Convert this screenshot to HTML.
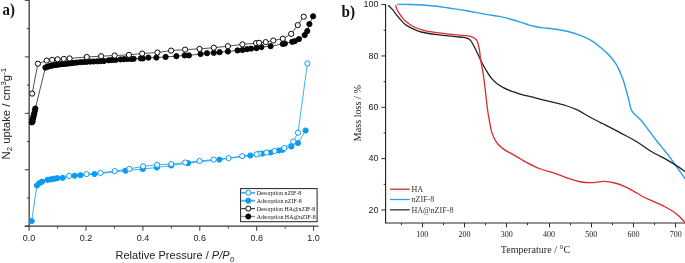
<!DOCTYPE html>
<html><head><meta charset="utf-8"><style>
html,body{margin:0;padding:0;background:#fff;width:685px;height:263px;overflow:hidden;position:relative}

</style></head><body>
<svg width="685" height="263" viewBox="0 0 685 263" style="position:absolute;left:0;top:0;will-change:transform">
<g stroke="#3a3a3a" fill="none">
<line x1="29.2" y1="0" x2="29.2" y2="226.2" stroke-width="1.5" stroke="#555"/>
<line x1="24.7" y1="226.2" x2="318.5" y2="226.2" stroke-width="1.3"/>
<line x1="24.8" y1="0.4" x2="29.2" y2="0.4" stroke-width="1"/>
<line x1="26.9" y1="28.63" x2="29.2" y2="28.63" stroke-width="1"/>
<line x1="24.8" y1="56.86" x2="29.2" y2="56.86" stroke-width="1"/>
<line x1="26.9" y1="85.09" x2="29.2" y2="85.09" stroke-width="1"/>
<line x1="24.8" y1="113.32" x2="29.2" y2="113.32" stroke-width="1"/>
<line x1="26.9" y1="141.55" x2="29.2" y2="141.55" stroke-width="1"/>
<line x1="24.8" y1="169.78" x2="29.2" y2="169.78" stroke-width="1"/>
<line x1="26.9" y1="198.01" x2="29.2" y2="198.01" stroke-width="1"/>
<line x1="24.8" y1="226.24" x2="29.2" y2="226.24" stroke-width="1"/>
<line x1="29.1" y1="226.2" x2="29.1" y2="230.8" stroke-width="1"/>
<line x1="57.55" y1="226.2" x2="57.55" y2="228.6" stroke-width="1"/>
<line x1="86" y1="226.2" x2="86" y2="230.8" stroke-width="1"/>
<line x1="114.45" y1="226.2" x2="114.45" y2="228.6" stroke-width="1"/>
<line x1="142.9" y1="226.2" x2="142.9" y2="230.8" stroke-width="1"/>
<line x1="171.35" y1="226.2" x2="171.35" y2="228.6" stroke-width="1"/>
<line x1="199.8" y1="226.2" x2="199.8" y2="230.8" stroke-width="1"/>
<line x1="228.25" y1="226.2" x2="228.25" y2="228.6" stroke-width="1"/>
<line x1="256.7" y1="226.2" x2="256.7" y2="230.8" stroke-width="1"/>
<line x1="285.15" y1="226.2" x2="285.15" y2="228.6" stroke-width="1"/>
<line x1="313.6" y1="226.2" x2="313.6" y2="230.8" stroke-width="1"/>
</g>
<polyline points="31.7,221 36.9,185.5 39.4,183.1 42,181.7 47.5,179.8 50.1,179.5 52.4,179 54.6,178.7 57.2,178.2 62.7,177.8 74.7,175.7 80.5,175.2 94.5,174.1 125.5,170.7 142.8,169 156.8,167.5 171.2,165.5 188,163.2 219.4,159.6 250.3,155.5 262.4,153.6 270.7,152.5 278.7,150.5 282.5,149.8 291.4,146.5 298,143 305.6,130.5" fill="none" stroke="#0b9bf0" stroke-width="0.8"/><g fill="#0b9bf0" stroke="#0b9bf0" stroke-width="1"><circle cx="31.7" cy="221" r="2.6"/><circle cx="36.9" cy="185.5" r="2.6"/><circle cx="39.4" cy="183.1" r="2.6"/><circle cx="42" cy="181.7" r="2.6"/><circle cx="47.5" cy="179.8" r="2.6"/><circle cx="50.1" cy="179.5" r="2.6"/><circle cx="52.4" cy="179" r="2.6"/><circle cx="54.6" cy="178.7" r="2.6"/><circle cx="57.2" cy="178.2" r="2.6"/><circle cx="62.7" cy="177.8" r="2.6"/><circle cx="74.7" cy="175.7" r="2.6"/><circle cx="80.5" cy="175.2" r="2.6"/><circle cx="94.5" cy="174.1" r="2.6"/><circle cx="125.5" cy="170.7" r="2.6"/><circle cx="142.8" cy="169" r="2.6"/><circle cx="156.8" cy="167.5" r="2.6"/><circle cx="171.2" cy="165.5" r="2.6"/><circle cx="188" cy="163.2" r="2.6"/><circle cx="219.4" cy="159.6" r="2.6"/><circle cx="250.3" cy="155.5" r="2.6"/><circle cx="262.4" cy="153.6" r="2.6"/><circle cx="270.7" cy="152.5" r="2.6"/><circle cx="278.7" cy="150.5" r="2.6"/><circle cx="282.5" cy="149.8" r="2.6"/><circle cx="291.4" cy="146.5" r="2.6"/><circle cx="298" cy="143" r="2.6"/><circle cx="305.6" cy="130.5" r="2.6"/></g>
<polyline points="307.4,63.5 298,132.7 293.2,141.5 284.3,148 274.6,151 266.5,152.5 259,153.6 256.7,154.3 242.2,156.1 228.6,158.1 213.7,159.6 199.6,161 185.2,162.5 171.2,164 157.1,164.8 143.1,166.3 129.4,168.9 114.7,171.1 100.5,172.9 86.5,174.1 69.1,176" fill="none" stroke="#0b9bf0" stroke-width="0.8"/><g fill="#fff" stroke="#0b9bf0" stroke-width="1"><circle cx="307.4" cy="63.5" r="2.6"/><circle cx="298" cy="132.7" r="2.6"/><circle cx="293.2" cy="141.5" r="2.6"/><circle cx="284.3" cy="148" r="2.6"/><circle cx="274.6" cy="151" r="2.6"/><circle cx="266.5" cy="152.5" r="2.6"/><circle cx="259" cy="153.6" r="2.6"/><circle cx="256.7" cy="154.3" r="2.6"/><circle cx="242.2" cy="156.1" r="2.6"/><circle cx="228.6" cy="158.1" r="2.6"/><circle cx="213.7" cy="159.6" r="2.6"/><circle cx="199.6" cy="161" r="2.6"/><circle cx="185.2" cy="162.5" r="2.6"/><circle cx="171.2" cy="164" r="2.6"/><circle cx="157.1" cy="164.8" r="2.6"/><circle cx="143.1" cy="166.3" r="2.6"/><circle cx="129.4" cy="168.9" r="2.6"/><circle cx="114.7" cy="171.1" r="2.6"/><circle cx="100.5" cy="172.9" r="2.6"/><circle cx="86.5" cy="174.1" r="2.6"/><circle cx="69.1" cy="176" r="2.6"/></g>
<polyline points="31.9,122.4 32.6,121.6 32.3,120 33,118.2 33.3,117.5 33.7,115.6 34.3,113.2 34.8,110.8 35.3,108.5 45.4,67.6 47,66.9 49,66.3 51,65.8 53,65.4 55,65.1 57,64.8 59,64.5 61,64.2 63,64 65,63.8 67,63.6 69,63.4 71,63.2 73.5,62.9 76.8,62.6 80.3,62.2 83.8,62 86.8,61.8 90.3,61.6 93.8,61.5 97.3,61.3 100.4,61.2 103.9,61 108.7,60.3 111.8,60.1 115.3,60 120.5,59.4 124,59.2 127.5,59 131,58.9 133.7,58.8 140.8,58.4 142.8,58.4 148.4,57.6 156.4,57.6 165.6,56.9 176.4,56.2 184.6,55.4 188.9,55.4 200.6,54 207,53.2 213.8,52.8 219.6,52.2 227.9,51.5 237.5,50.4 242.4,50 247,49.2 251.1,48.6 256.4,48.2 261.4,47.1 270.6,46.2 282.8,43.9 284.9,43.5 292.2,41.8 294.7,41.2 298.9,39.1 304.7,35.1 307.3,31 309.4,24.1 313.1,16.3" fill="none" stroke="#050505" stroke-width="0.7"/><g fill="#050505" stroke="#050505" stroke-width="1"><circle cx="31.9" cy="122.4" r="2.6"/><circle cx="32.6" cy="121.6" r="2.6"/><circle cx="32.3" cy="120" r="2.6"/><circle cx="33" cy="118.2" r="2.6"/><circle cx="33.3" cy="117.5" r="2.6"/><circle cx="33.7" cy="115.6" r="2.6"/><circle cx="34.3" cy="113.2" r="2.6"/><circle cx="34.8" cy="110.8" r="2.6"/><circle cx="35.3" cy="108.5" r="2.6"/><circle cx="45.4" cy="67.6" r="2.6"/><circle cx="47" cy="66.9" r="2.6"/><circle cx="49" cy="66.3" r="2.6"/><circle cx="51" cy="65.8" r="2.6"/><circle cx="53" cy="65.4" r="2.6"/><circle cx="55" cy="65.1" r="2.6"/><circle cx="57" cy="64.8" r="2.6"/><circle cx="59" cy="64.5" r="2.6"/><circle cx="61" cy="64.2" r="2.6"/><circle cx="63" cy="64" r="2.6"/><circle cx="65" cy="63.8" r="2.6"/><circle cx="67" cy="63.6" r="2.6"/><circle cx="69" cy="63.4" r="2.6"/><circle cx="71" cy="63.2" r="2.6"/><circle cx="73.5" cy="62.9" r="2.6"/><circle cx="76.8" cy="62.6" r="2.6"/><circle cx="80.3" cy="62.2" r="2.6"/><circle cx="83.8" cy="62" r="2.6"/><circle cx="86.8" cy="61.8" r="2.6"/><circle cx="90.3" cy="61.6" r="2.6"/><circle cx="93.8" cy="61.5" r="2.6"/><circle cx="97.3" cy="61.3" r="2.6"/><circle cx="100.4" cy="61.2" r="2.6"/><circle cx="103.9" cy="61" r="2.6"/><circle cx="108.7" cy="60.3" r="2.6"/><circle cx="111.8" cy="60.1" r="2.6"/><circle cx="115.3" cy="60" r="2.6"/><circle cx="120.5" cy="59.4" r="2.6"/><circle cx="124" cy="59.2" r="2.6"/><circle cx="127.5" cy="59" r="2.6"/><circle cx="131" cy="58.9" r="2.6"/><circle cx="133.7" cy="58.8" r="2.6"/><circle cx="140.8" cy="58.4" r="2.6"/><circle cx="142.8" cy="58.4" r="2.6"/><circle cx="148.4" cy="57.6" r="2.6"/><circle cx="156.4" cy="57.6" r="2.6"/><circle cx="165.6" cy="56.9" r="2.6"/><circle cx="176.4" cy="56.2" r="2.6"/><circle cx="184.6" cy="55.4" r="2.6"/><circle cx="188.9" cy="55.4" r="2.6"/><circle cx="200.6" cy="54" r="2.6"/><circle cx="207" cy="53.2" r="2.6"/><circle cx="213.8" cy="52.8" r="2.6"/><circle cx="219.6" cy="52.2" r="2.6"/><circle cx="227.9" cy="51.5" r="2.6"/><circle cx="237.5" cy="50.4" r="2.6"/><circle cx="242.4" cy="50" r="2.6"/><circle cx="247" cy="49.2" r="2.6"/><circle cx="251.1" cy="48.6" r="2.6"/><circle cx="256.4" cy="48.2" r="2.6"/><circle cx="261.4" cy="47.1" r="2.6"/><circle cx="270.6" cy="46.2" r="2.6"/><circle cx="282.8" cy="43.9" r="2.6"/><circle cx="284.9" cy="43.5" r="2.6"/><circle cx="292.2" cy="41.8" r="2.6"/><circle cx="294.7" cy="41.2" r="2.6"/><circle cx="298.9" cy="39.1" r="2.6"/><circle cx="304.7" cy="35.1" r="2.6"/><circle cx="307.3" cy="31" r="2.6"/><circle cx="309.4" cy="24.1" r="2.6"/><circle cx="313.1" cy="16.3" r="2.6"/></g>
<polyline points="32.1,93.6 37.9,63.7 46.7,60.6 52.2,59.9 57.6,59.3 63.8,58.9 69.6,58.4 86.8,57 101.1,56.2 114.6,55.5 128.9,54.9 142.2,53.5 157.4,52.5 171.1,50.6 185.1,49.6 199.5,48.9 213.8,47.7 227.9,46.2 242.4,44.4 256.1,43.1 259.1,42.8 265.7,42.1 273.3,40.5 282.8,38.7 291.2,33.9 297.8,25.1 303.7,16.7" fill="none" stroke="#050505" stroke-width="0.7"/><g fill="#fff" stroke="#050505" stroke-width="1"><circle cx="32.1" cy="93.6" r="2.6"/><circle cx="37.9" cy="63.7" r="2.6"/><circle cx="46.7" cy="60.6" r="2.6"/><circle cx="52.2" cy="59.9" r="2.6"/><circle cx="57.6" cy="59.3" r="2.6"/><circle cx="63.8" cy="58.9" r="2.6"/><circle cx="69.6" cy="58.4" r="2.6"/><circle cx="86.8" cy="57" r="2.6"/><circle cx="101.1" cy="56.2" r="2.6"/><circle cx="114.6" cy="55.5" r="2.6"/><circle cx="128.9" cy="54.9" r="2.6"/><circle cx="142.2" cy="53.5" r="2.6"/><circle cx="157.4" cy="52.5" r="2.6"/><circle cx="171.1" cy="50.6" r="2.6"/><circle cx="185.1" cy="49.6" r="2.6"/><circle cx="199.5" cy="48.9" r="2.6"/><circle cx="213.8" cy="47.7" r="2.6"/><circle cx="227.9" cy="46.2" r="2.6"/><circle cx="242.4" cy="44.4" r="2.6"/><circle cx="256.1" cy="43.1" r="2.6"/><circle cx="259.1" cy="42.8" r="2.6"/><circle cx="265.7" cy="42.1" r="2.6"/><circle cx="273.3" cy="40.5" r="2.6"/><circle cx="282.8" cy="38.7" r="2.6"/><circle cx="291.2" cy="33.9" r="2.6"/><circle cx="297.8" cy="25.1" r="2.6"/><circle cx="303.7" cy="16.7" r="2.6"/></g>
<g font-family="Liberation Sans" font-size="9" fill="#222" text-anchor="middle">
<text transform="translate(29.1,241) scale(1,1.11)">0.0</text>
<text transform="translate(86,241) scale(1,1.11)">0.2</text>
<text transform="translate(142.9,241) scale(1,1.11)">0.4</text>
<text transform="translate(199.8,241) scale(1,1.11)">0.6</text>
<text transform="translate(256.7,241) scale(1,1.11)">0.8</text>
<text transform="translate(313.6,241) scale(1,1.11)">1.0</text>
</g>
<text transform="translate(115.5,259.2) scale(1,1.06)" font-family="Liberation Sans" font-size="11.05" fill="#222">Relative Pressure / <tspan font-style="italic">P/P</tspan><tspan font-style="italic" font-size="7.6" dx="0.3" dy="3">0</tspan></text>
<text transform="translate(9.6,159.5) rotate(-90) scale(1,0.93)" font-family="Liberation Sans" font-size="11.3" fill="#222">N<tspan font-size="7.8" dy="2.2">2</tspan><tspan dy="-2.2"> uptake / cm</tspan><tspan font-size="7.8" dy="-3.8">3</tspan><tspan dy="3.8">g</tspan><tspan font-size="7.8" dy="-3.8">-1</tspan></text>
<text transform="translate(2.5,14.9) scale(0.87,1)" font-family="Liberation Serif" font-weight="bold" font-size="17" fill="#111">a)</text>
<rect x="240.6" y="188.6" width="76.5" height="33.1" fill="#fff" stroke="#222" stroke-width="1"/>
<line x1="241.2" y1="192.8" x2="255" y2="192.8" stroke="#45b0f0" stroke-width="1.8"/>
<circle cx="248.3" cy="192.8" r="2.55" fill="#fff" stroke="#0b9bf0" stroke-width="1"/>
<text transform="translate(256.7,195) scale(0.9,1)" font-family="Liberation Serif" font-size="6.6" fill="#111">Desorption nZIF-8</text>
<line x1="241.2" y1="200.7" x2="255" y2="200.7" stroke="#45b0f0" stroke-width="1.8"/>
<circle cx="248.3" cy="200.7" r="2.55" fill="#0b9bf0" stroke="#0b9bf0" stroke-width="1"/>
<text transform="translate(256.7,202.9) scale(0.9,1)" font-family="Liberation Serif" font-size="6.6" fill="#111">Adsorption nZIF-8</text>
<line x1="241.2" y1="208.6" x2="255" y2="208.6" stroke="#444" stroke-width="1.3"/>
<circle cx="248.3" cy="208.6" r="2.55" fill="#fff" stroke="#050505" stroke-width="1"/>
<text transform="translate(256.7,210.8) scale(0.9,1)" font-family="Liberation Serif" font-size="6.6" fill="#111">Desorption HA@nZIF-8</text>
<line x1="241.2" y1="216.5" x2="255" y2="216.5" stroke="#8a8a8a" stroke-width="1.3"/>
<circle cx="248.3" cy="216.5" r="2.55" fill="#050505" stroke="#050505" stroke-width="1"/>
<text transform="translate(256.7,218.7) scale(0.9,1)" font-family="Liberation Serif" font-size="6.6" fill="#111">Adsorption HA@nZIF-8</text>
<g stroke="#2b2b2b" fill="none" stroke-width="1.2">
<line x1="385.6" y1="4" x2="385.6" y2="223" stroke-width="1.1" stroke="#1e1e1e"/>
<line x1="385.0" y1="223" x2="685" y2="223"/>
<line x1="381.4" y1="210" x2="385.6" y2="210" stroke-width="1"/>
<line x1="383.6" y1="184.32" x2="385.6" y2="184.32" stroke-width="1"/>
<line x1="381.4" y1="158.65" x2="385.6" y2="158.65" stroke-width="1"/>
<line x1="383.6" y1="132.97" x2="385.6" y2="132.97" stroke-width="1"/>
<line x1="381.4" y1="107.3" x2="385.6" y2="107.3" stroke-width="1"/>
<line x1="383.6" y1="81.62" x2="385.6" y2="81.62" stroke-width="1"/>
<line x1="381.4" y1="55.95" x2="385.6" y2="55.95" stroke-width="1"/>
<line x1="383.6" y1="30.27" x2="385.6" y2="30.27" stroke-width="1"/>
<line x1="381.4" y1="4.6" x2="385.6" y2="4.6" stroke-width="1"/>
<line x1="401.5" y1="223" x2="401.5" y2="225.1" stroke-width="1"/>
<line x1="422.5" y1="223" x2="422.5" y2="227.4" stroke-width="1"/>
<line x1="443.5" y1="223" x2="443.5" y2="225.1" stroke-width="1"/>
<line x1="464.5" y1="223" x2="464.5" y2="227.4" stroke-width="1"/>
<line x1="485.5" y1="223" x2="485.5" y2="225.1" stroke-width="1"/>
<line x1="506.5" y1="223" x2="506.5" y2="227.4" stroke-width="1"/>
<line x1="527.5" y1="223" x2="527.5" y2="225.1" stroke-width="1"/>
<line x1="549.5" y1="223" x2="549.5" y2="227.4" stroke-width="1"/>
<line x1="570.5" y1="223" x2="570.5" y2="225.1" stroke-width="1"/>
<line x1="591.5" y1="223" x2="591.5" y2="227.4" stroke-width="1"/>
<line x1="612.5" y1="223" x2="612.5" y2="225.1" stroke-width="1"/>
<line x1="633.5" y1="223" x2="633.5" y2="227.4" stroke-width="1"/>
<line x1="654.5" y1="223" x2="654.5" y2="225.1" stroke-width="1"/>
<line x1="675.5" y1="223" x2="675.5" y2="227.4" stroke-width="1"/>
</g>
<path d="M397,4.4 C399.17,4.42 405.22,4.37 410,4.5 C414.78,4.63 421.2,4.9 425.7,5.2 C430.2,5.5 433.2,5.83 437,6.3 C440.8,6.77 443.83,7.3 448.5,8 C453.17,8.7 458.98,9.48 465,10.5 C471.02,11.52 478.9,13.12 484.6,14.1 C490.3,15.08 494.82,15.53 499.2,16.4 C503.58,17.27 507,18.23 510.9,19.3 C514.8,20.37 519.67,21.88 522.6,22.8 C525.53,23.72 526.6,24.22 528.5,24.8 C530.4,25.38 532.25,25.88 534,26.3 C535.75,26.72 537.33,27.03 539,27.3 C540.67,27.57 540.9,27.53 544,27.9 C547.1,28.27 553.27,28.82 557.6,29.5 C561.93,30.18 565.8,30.85 570,32 C574.2,33.15 578.77,34.68 582.8,36.4 C586.83,38.12 590.4,39.72 594.2,42.3 C598,44.88 602.97,49.58 605.6,51.9 C608.23,54.22 608.1,53.92 610,56.2 C611.9,58.48 614.95,62.03 617,65.6 C619.05,69.17 620.93,74.12 622.3,77.6 C623.67,81.08 624.38,83.77 625.2,86.5 C626.02,89.23 626.65,92 627.2,94 C627.75,96 628.1,96.95 628.5,98.5 C628.9,100.05 629.23,101.67 629.6,103.3 C629.97,104.93 630.23,106.92 630.7,108.3 C631.17,109.68 631.73,110.6 632.4,111.6 C633.07,112.6 633.93,113.5 634.7,114.3 C635.47,115.1 635.78,115.25 637,116.4 C638.22,117.55 640.32,119.25 642,121.2 C643.68,123.15 645.4,125.82 647.1,128.1 C648.8,130.38 650.48,132.62 652.2,134.9 C653.92,137.18 655.4,139.28 657.4,141.8 C659.4,144.32 662.23,147.58 664.2,150 C666.17,152.42 667.1,153.47 669.2,156.3 C671.3,159.13 674.27,163.45 676.8,167 C679.33,170.55 682.87,175.47 684.4,177.6 C685.93,179.73 685.73,179.43 686,179.8" fill="none" stroke="#2aa0e6" stroke-width="1.4"/>
<path d="M388.3,5.3 C389.05,6.07 391.43,8.32 392.8,9.9 C394.17,11.48 395.1,13.05 396.5,14.8 C397.9,16.55 399.62,18.68 401.2,20.4 C402.78,22.12 404.2,23.78 406,25.1 C407.8,26.42 409.48,27.15 412,28.3 C414.52,29.45 416.92,30.93 421.1,32 C425.28,33.07 431.4,33.93 437.1,34.7 C442.8,35.47 450.98,36.15 455.3,36.6 C459.62,37.05 460.97,37.12 463,37.4 C465.03,37.68 466.25,37.82 467.5,38.3 C468.75,38.78 469.48,39.1 470.5,40.3 C471.52,41.5 472.4,43.27 473.6,45.5 C474.8,47.73 476.38,50.95 477.7,53.7 C479.02,56.45 480.07,59.2 481.5,62 C482.93,64.8 484.65,67.8 486.3,70.5 C487.95,73.2 489.7,76.07 491.4,78.2 C493.1,80.33 494.5,81.73 496.5,83.3 C498.5,84.87 501.15,86.38 503.4,87.6 C505.65,88.82 507.9,89.75 510,90.6 C512.1,91.45 514.33,92.12 516,92.7 C517.67,93.28 516.8,93.23 520,94.1 C523.2,94.97 530.13,96.63 535.2,97.9 C540.27,99.17 545.33,100.43 550.4,101.7 C555.47,102.97 561.03,104.1 565.6,105.5 C570.17,106.9 574,108.32 577.8,110.1 C581.6,111.88 584.7,114.17 588.4,116.2 C592.1,118.23 597.2,120.85 600,122.3 C602.8,123.75 601.78,123.13 605.2,124.9 C608.62,126.67 615.17,130.05 620.5,132.9 C625.83,135.75 632.13,138.95 637.2,142 C642.27,145.05 646.08,148.3 650.9,151.2 C655.72,154.1 662.03,157.12 666.1,159.4 C670.17,161.68 672.15,162.87 675.3,164.9 C678.45,166.93 683.38,170.48 685,171.6" fill="none" stroke="#222" stroke-width="1.3"/>
<path d="M395.5,5.3 C395.68,5.82 396.1,7.25 396.6,8.4 C397.1,9.55 397.47,10.55 398.5,12.2 C399.53,13.85 401.38,16.62 402.8,18.3 C404.22,19.98 405.47,21.05 407,22.3 C408.53,23.55 410.17,24.77 412,25.8 C413.83,26.83 415.72,27.67 418,28.5 C420.28,29.33 422.53,30.12 425.7,30.8 C428.87,31.48 433.2,32.05 437,32.6 C440.8,33.15 444.67,33.68 448.5,34.1 C452.33,34.52 457.02,34.83 460,35.1 C462.98,35.37 464.65,35.5 466.4,35.7 C468.15,35.9 469.13,35.87 470.5,36.3 C471.87,36.73 473.48,37.47 474.6,38.3 C475.72,39.13 476.52,39.93 477.2,41.3 C477.88,42.67 478.3,44.88 478.7,46.5 C479.1,48.12 479.28,48.87 479.6,51 C479.92,53.13 479.93,55.07 480.6,59.3 C481.27,63.53 482.63,69.6 483.6,76.4 C484.57,83.2 485.73,94.5 486.4,100.1 C487.07,105.7 487.08,106.45 487.6,110 C488.12,113.55 488.87,117.92 489.5,121.4 C490.13,124.88 490.6,128.05 491.4,130.9 C492.2,133.75 493.18,136.28 494.3,138.5 C495.42,140.72 496.37,142.3 498.1,144.2 C499.83,146.1 502.33,148.25 504.7,149.9 C507.07,151.55 509.77,152.67 512.3,154.1 C514.83,155.53 517.68,157.2 519.9,158.5 C522.12,159.8 522.38,160.23 525.6,161.9 C528.82,163.57 534.3,166.6 539.2,168.5 C544.1,170.4 550.15,171.67 555,173.3 C559.85,174.93 563.87,176.85 568.3,178.3 C572.73,179.75 577.82,181.27 581.6,182 C585.38,182.73 587.22,182.8 591,182.7 C594.78,182.6 600.32,181.35 604.3,181.4 C608.28,181.45 611.58,182.18 614.9,183 C618.22,183.82 621.1,184.95 624.2,186.3 C627.3,187.65 630.52,189.45 633.5,191.1 C636.48,192.75 639.25,194.68 642.1,196.2 C644.95,197.72 647.75,198.92 650.6,200.2 C653.45,201.48 656.35,202.57 659.2,203.9 C662.05,205.23 665.13,206.77 667.7,208.2 C670.27,209.63 672.6,211.07 674.6,212.5 C676.6,213.93 678.13,215.3 679.7,216.8 C681.27,218.3 683.12,220.53 684,221.5 C684.88,222.47 684.83,222.42 685,222.6" fill="none" stroke="#dc2a2e" stroke-width="1.3"/>
<g font-family="Liberation Sans" font-size="9" fill="#222" text-anchor="end">
<text transform="translate(378.4,7.4) scale(1,1.1)">100</text>
<text transform="translate(378.4,58.75) scale(1,1.1)">80</text>
<text transform="translate(378.4,110.1) scale(1,1.1)">60</text>
<text transform="translate(378.4,161.45) scale(1,1.1)">40</text>
<text transform="translate(378.4,212.8) scale(1,1.1)">20</text>
</g>
<g font-family="Liberation Serif" font-size="8" fill="#222" text-anchor="middle">
<text x="422.18" y="236.6">100</text>
<text x="464.46" y="236.6">200</text>
<text x="506.74" y="236.6">300</text>
<text x="549.02" y="236.6">400</text>
<text x="591.3" y="236.6">500</text>
<text x="633.58" y="236.6">600</text>
<text x="675.86" y="236.6">700</text>
</g>
<text x="500.7" y="252.7" font-family="Liberation Serif" font-size="10.15" fill="#2a2a2a">Temperature / °C</text>
<text transform="translate(360.6,141.4) rotate(-90)" font-family="Liberation Serif" font-size="10.2" fill="#222">Mass loss / %</text>
<text transform="translate(341.6,16.9) scale(0.9,1)" font-family="Liberation Serif" font-weight="bold" font-size="17" fill="#111">b)</text>
<line x1="390" y1="189.2" x2="409.8" y2="189.2" stroke="#dc2a2e" stroke-width="1.3"/>
<text x="411.4" y="191.9" font-family="Liberation Serif" font-size="8.1" fill="#333">HA</text>
<line x1="390" y1="199.5" x2="409.8" y2="199.5" stroke="#2aa0e6" stroke-width="1.3"/>
<text x="411.4" y="202.2" font-family="Liberation Serif" font-size="8.1" fill="#333">nZIF-8</text>
<line x1="390" y1="209.8" x2="409.8" y2="209.8" stroke="#333" stroke-width="1.3"/>
<text x="411.4" y="212.5" font-family="Liberation Serif" font-size="8.1" fill="#333">HA@nZIF-8</text>
</svg>
</body></html>
